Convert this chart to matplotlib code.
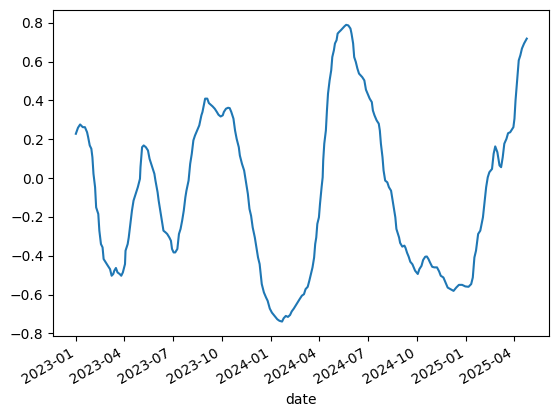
import pandas as pd
import matplotlib
matplotlib.use("Agg")
import matplotlib.pyplot as plt

# series: days since 2023-01-01 and the value
start = "2023-01-01"
days = [
    0, 4, 8, 13, 17, 21, 23, 26, 29, 31, 33, 36, 38, 42, 44, 47, 50, 52, 56, 60,
    64, 67, 70, 72, 75, 78, 82, 85, 88, 92, 93, 97, 99, 102, 105, 108, 113, 116, 120, 121,
    124, 127, 131, 135, 138, 141, 144, 147, 149, 153, 155, 158, 161, 164, 168, 171, 175, 178, 180, 183,
    186, 190, 193, 196, 199, 202, 205, 207, 211, 214, 217, 220, 223, 227, 231, 235, 237, 240, 242, 246,
    249, 252, 256, 260, 264, 267, 271, 275, 277, 281, 285, 288, 291, 295, 298, 301, 305, 307, 311, 315,
    319, 322, 325, 328, 331, 335, 338, 341, 344, 346, 348, 352, 356, 359, 363, 367, 372, 377, 381, 386,
    389, 393, 397, 401, 404, 408, 412, 415, 419, 423, 427, 430, 434, 437, 440, 443, 446, 448, 450, 452,
    455, 457, 460, 462, 463, 465, 468, 470, 472, 475, 478, 480, 483, 485, 488, 490, 493, 496, 499, 503,
    506, 510, 514, 516, 519, 521, 524, 527, 530, 533, 536, 540, 543, 546, 550, 554, 556, 559, 563, 567,
    569, 571, 574, 576, 579, 583, 586, 590, 592, 595, 598, 600, 602, 605, 607, 611, 615, 617, 620, 623,
    626, 630, 632, 635, 640, 643, 647, 650, 654, 657, 660, 663, 667, 671, 676, 680, 683, 688, 692, 696,
    701, 707, 712, 717, 723, 729, 735, 740, 743, 746, 749, 753, 757, 762, 764, 768, 771, 774, 779, 782,
    785, 789, 793, 796, 799, 802, 806, 809, 813, 817, 819, 821, 823, 826, 829, 832, 835, 839, 844,
]
values = [
    0.228, 0.259, 0.276, 0.262, 0.262, 0.236, 0.211, 0.168, 0.151, 0.107, 0.022, -0.047, -0.151, -0.185, -0.271, -0.340, -0.357, -0.417, -0.435, -0.452,
    -0.469, -0.503, -0.494, -0.477, -0.463, -0.486, -0.494, -0.503, -0.486, -0.443, -0.374, -0.340, -0.306, -0.236, -0.168, -0.116, -0.073, -0.047, -0.004, 0.056,
    0.159, 0.168, 0.159, 0.142, 0.099, 0.073, 0.047, 0.022, -0.013, -0.073, -0.116, -0.168, -0.219, -0.271, -0.280, -0.288, -0.306, -0.323, -0.365, -0.383,
    -0.383, -0.365, -0.288, -0.262, -0.219, -0.168, -0.099, -0.065, -0.013, 0.073, 0.125, 0.194, 0.219, 0.245, 0.271, 0.323, 0.340, 0.383, 0.409, 0.409,
    0.386, 0.379, 0.369, 0.357, 0.340, 0.326, 0.317, 0.323, 0.340, 0.357, 0.362, 0.360, 0.340, 0.306, 0.245, 0.202, 0.159, 0.116, 0.073, 0.039,
    -0.030, -0.082, -0.159, -0.194, -0.254, -0.306, -0.357, -0.409, -0.443, -0.494, -0.546, -0.589, -0.615, -0.632, -0.672, -0.693, -0.710, -0.727, -0.735, -0.739,
    -0.722, -0.710, -0.715, -0.705, -0.687, -0.672, -0.654, -0.641, -0.623, -0.606, -0.598, -0.572, -0.560, -0.529, -0.494, -0.460, -0.409, -0.340, -0.306, -0.236,
    -0.202, -0.133, -0.047, 0.004, 0.090, 0.177, 0.245, 0.348, 0.435, 0.503, 0.555, 0.623, 0.658, 0.693, 0.710, 0.744, 0.753, 0.761, 0.770, 0.782,
    0.789, 0.786, 0.770, 0.744, 0.693, 0.623, 0.598, 0.564, 0.538, 0.529, 0.520, 0.503, 0.455, 0.435, 0.409, 0.391, 0.348, 0.323, 0.297, 0.280,
    0.245, 0.177, 0.107, 0.039, -0.013, -0.022, -0.047, -0.065, -0.099, -0.151, -0.202, -0.262, -0.280, -0.306, -0.334, -0.353, -0.348, -0.359, -0.385, -0.405,
    -0.431, -0.444, -0.457, -0.477, -0.494, -0.469, -0.452, -0.422, -0.405, -0.404, -0.417, -0.435, -0.457, -0.460, -0.460, -0.481, -0.503, -0.512, -0.538, -0.564,
    -0.572, -0.581, -0.564, -0.550, -0.550, -0.558, -0.560, -0.546, -0.512, -0.409, -0.374, -0.288, -0.271, -0.202, -0.151, -0.047, 0.004, 0.030, 0.047, 0.125,
    0.163, 0.133, 0.065, 0.056, 0.107, 0.177, 0.202, 0.231, 0.236, 0.254, 0.262, 0.306, 0.400, 0.503, 0.606, 0.632, 0.667, 0.693, 0.718,
]

dates = pd.Timestamp(start) + pd.to_timedelta(days, unit="D")
series = pd.Series(values, index=dates)

fig = plt.figure(figsize=(5.59, 4.16), dpi=100)
ax = fig.add_axes([53.3 / 559, 79.6 / 416, 496 / 559, 326.4 / 416])
ax.plot(series.index, series.values, color="#1f77b4", linewidth=1.5)
ax.set_xlabel("date")

for label in ax.get_xticklabels():
    label.set_rotation(30)
    label.set_horizontalalignment("right")

fig.savefig("out.png", dpi=100)
